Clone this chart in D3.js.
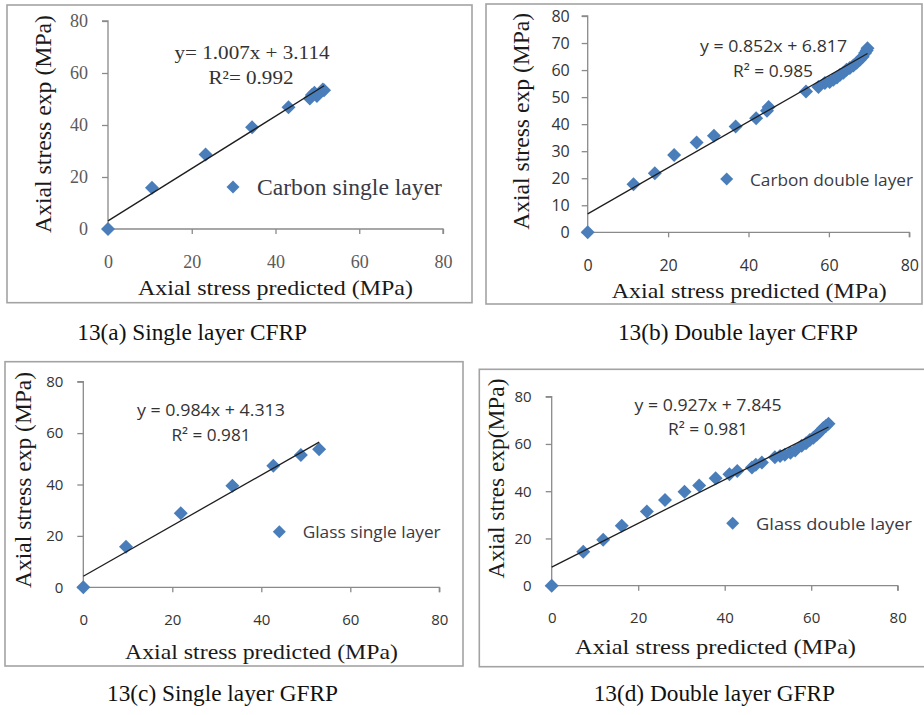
<!DOCTYPE html>
<html><head><meta charset="utf-8">
<script src="https://cdn.jsdelivr.net/npm/d3@7"></script>
<style>body{margin:0;background:#fff}svg{display:block}</style>
</head><body>
<svg id="c" width="924" height="715"></svg>
<script>
// ---------- data ----------
const xTicks = [0, 20, 40, 60, 80];
const yTicks20 = [0, 20, 40, 60, 80];
const yTicks10 = [0, 10, 20, 30, 40, 50, 60, 70, 80];

const carbonSingleX = [0, 10.5, 23.3, 34.4, 43.1, 48.2, 48.7, 49.3, 49.9, 51.3, 51.6];
const carbonSingleY = [0, 15.9, 28.7, 39.1, 46.8, 50.2, 51.5, 52.4, 51.2, 53.7, 53.4];

const carbonDoubleX = [0, 11.4, 16.7, 21.5, 27.1, 31.4, 36.8, 41.9, 44.6, 45.0, 54.3, 57.4, 59.0, 60.2, 61.1, 62.0, 62.8, 63.6, 64.4, 65.2, 66.1, 66.9, 67.7, 68.4, 69.0, 69.4, 69.6];
const carbonDoubleY = [0, 17.8, 21.8, 28.6, 33.2, 35.7, 39.1, 42.2, 45.0, 46.3, 52.1, 53.7, 55.2, 55.6, 56.4, 57.3, 58.3, 59.0, 60.1, 60.8, 61.7, 62.7, 63.8, 64.9, 66.3, 67.2, 68.1];

const glassSingleX = [0, 9.6, 21.9, 33.5, 42.7, 48.9, 53.0];
const glassSingleY = [0, 15.8, 28.8, 39.5, 47.3, 51.5, 53.7];

const glassDoubleX = [0, 7.3, 11.9, 16.2, 22.0, 26.2, 30.7, 34.1, 37.9, 41.1, 42.9, 46.3, 47.2, 48.6, 51.6, 52.8, 53.9, 55.2, 56.3, 57.8, 58.8, 59.7, 60.5, 61.3, 62.0, 62.8, 63.4, 64.0];
const glassDoubleY = [0, 14.4, 19.4, 25.4, 31.4, 36.3, 39.8, 42.4, 45.5, 47.2, 48.6, 50.0, 51.2, 52.1, 54.4, 54.9, 55.4, 56.3, 57.2, 59.2, 60.3, 61.7, 62.6, 63.9, 65.2, 66.7, 67.6, 68.5];

const fitSlopes = [1.007, 0.852, 0.984, 0.927];
const fitIntercepts = [3.114, 6.817, 4.313, 7.845];
const equationLabels = ["y= 1.007x + 3.114", "y = 0.852x + 6.817", "y = 0.984x + 4.313", "y = 0.927x + 7.845"];
const r2Labels = ["R\u00b2= 0.992", "R\u00b2 = 0.985", "R\u00b2 = 0.981", "R\u00b2 = 0.981"];
const seriesNames = ["Carbon single layer", "Carbon double layer", "Glass single layer", "Glass double layer"];
const xTitles = ["Axial stress predicted (MPa)", "Axial stress predicted (MPa)", "Axial stress predicted (MPa)", "Axial stress predicted  (MPa)"];
const yTitles = ["Axial stress exp (MPa)", "Axial stress exp (MPa)", "Axial stress exp (MPa)", "Axial stres exp(MPa)"];
const captions = ["13(a) Single layer CFRP", "13(b) Double layer CFRP", "13(c) Single layer GFRP", "13(d) Double layer GFRP"];

// ---------- layout ----------
const SERIF = "'Liberation Serif','Times New Roman',serif";
const SANS = "'Open Sans','Noto Sans',sans-serif";
const BLUE = "#4a7ebb";
const panels = [
  {xs: carbonSingleX, ys: carbonSingleY, yt: yTicks20, box: [7, 5, 472, 302.7],
   px: [108, 443], py: [229, 21], tickFont: SERIF, tickSize: 18, tickColor: "#5a5a5a",
   xT: [275.5, 287, 275], yT: [43, 124, 218], eqFont: SERIF, eqSize: 19,
   eq: [252, 52, 155], r2: [251, 77, 85], legD: [233, 187], legT: [257, 185], legFont: SERIF, legSize: 23},
  {xs: carbonDoubleX, ys: carbonDoubleY, yt: yTicks10, box: [486, 4, 922, 304],
   px: [587.7, 909.3], py: [232.3, 16], tickFont: SANS, tickSize: 16, tickColor: "#333",
   xT: [749.2, 290, 275], yT: [521.7, 121.3, 217], eqFont: SANS, eqSize: 17,
   eq: [773.5, 45, 147], r2: [773, 70, 80], legD: [726.7, 179], legT: [750, 163], legFont: SANS, legSize: 17},
  {xs: glassSingleX, ys: glassSingleY, yt: yTicks20, box: [5, 361.7, 463, 666],
   px: [83.3, 439.3], py: [587.3, 381.7], tickFont: SANS, tickSize: 15, tickColor: "#333",
   xT: [261.5, 651.7, 273], yT: [23, 479.9, 216], eqFont: SANS, eqSize: 17,
   eq: [211, 409.3, 148], r2: [211, 434, 79], legD: [279.3, 531.7], legT: [302.7, 138], legFont: SANS, legSize: 16},
  {xs: glassDoubleX, ys: glassDoubleY, yt: yTicks20, box: [479.3, 369.3, 926, 666.7],
   px: [551.7, 897.7], py: [585.7, 396.7], tickFont: SANS, tickSize: 15, tickColor: "#333",
   xT: [715.5, 646, 281], yT: [496.7, 478.5, 200], eqFont: SANS, eqSize: 17,
   eq: [708, 404, 147], r2: [708, 428, 80], legD: [732.7, 523.3], legT: [756, 156], legFont: SANS, legSize: 17}
];
// caption right end x and baseline y
const captionPos = [[307, 340], [858, 340], [338, 701], [835, 701]];

const svg = d3.select("#c");
const diamond = r => `M0,${-r}L${r},0L0,${r}L${-r},0Z`;

panels.forEach((p, i) => {
  const g = svg.append("g");
  g.append("rect").attr("x", p.box[0]).attr("y", p.box[1])
    .attr("width", p.box[2] - p.box[0]).attr("height", p.box[3] - p.box[1])
    .attr("fill", "#fff").attr("stroke", "#a3a3a3").attr("stroke-width", 1.6);

  const x = d3.scaleLinear().domain([0, 80]).range(p.px);
  const y = d3.scaleLinear().domain([0, 80]).range(p.py);

  const xa = g.append("g").attr("transform", `translate(0,${p.py[0]})`)
    .call(d3.axisBottom(x).tickValues(xTicks).tickSize(5).tickPadding(p.tickFont === SERIF ? 21 : 22).tickSizeOuter(5));
  const ya = g.append("g").attr("transform", `translate(${p.px[0]},0)`)
    .call(d3.axisLeft(y).tickValues(p.yt).tickSize(6).tickPadding(i === 1 ? 12 : 14).tickSizeOuter(6));
  [xa, ya].forEach(a => {
    a.select(".domain").attr("stroke", "#8a8a8a").attr("stroke-width", 1.3);
    a.selectAll(".tick line").attr("stroke", "#8a8a8a").attr("stroke-width", 1.3);
    a.selectAll(".tick text").attr("font-family", p.tickFont).attr("font-size", p.tickSize)
      .attr("fill", p.tickColor);
  });
  xa.select(".domain").attr("d", `M${p.px[0]},0H${p.px[1]}V5`);
  ya.select(".domain").attr("d", `M-6,${p.py[1]}H0V${p.py[0]}`);

  // axis titles
  g.append("text").attr("x", p.xT[0]).attr("y", p.xT[1]).attr("text-anchor", "middle")
    .attr("dominant-baseline", "central").attr("font-family", SERIF).attr("font-size", 22)
    .attr("fill", "#1a1a1a").attr("textLength", p.xT[2]).attr("lengthAdjust", "spacingAndGlyphs")
    .text(xTitles[i]);
  g.append("text").attr("transform", `translate(${p.yT[0]},${p.yT[1]}) rotate(-90)`)
    .attr("text-anchor", "middle").attr("dominant-baseline", "central")
    .attr("font-family", SERIF).attr("font-size", 23).attr("fill", "#1a1a1a")
    .attr("textLength", p.yT[2]).attr("lengthAdjust", "spacingAndGlyphs").text(yTitles[i]);

  // trendline data (linear fit over the observed x range)
  const xmax = d3.max(p.xs);
  const lineData = [0, xmax].map(v => [v, fitSlopes[i] * v + fitIntercepts[i]]);

  // points
  g.selectAll("path.pt").data(d3.zip(p.xs, p.ys)).join("path").attr("class", "pt")
    .attr("transform", d => `translate(${x(d[0])},${y(d[1])})`)
    .attr("d", diamond(7)).attr("fill", BLUE);

  // trendline on top of markers
  g.append("path").attr("d", d3.line().x(d => x(d[0])).y(d => y(d[1]))(lineData))
    .attr("stroke", "#1e1e1e").attr("stroke-width", 1.3).attr("fill", "none");

  // equation
  g.append("text").attr("x", p.eq[0]).attr("y", p.eq[1]).attr("text-anchor", "middle")
    .attr("dominant-baseline", "central").attr("font-family", p.eqFont).attr("font-size", p.eqSize)
    .attr("fill", "#333").attr("textLength", p.eq[2]).attr("lengthAdjust", "spacingAndGlyphs")
    .text(equationLabels[i]);
  g.append("text").attr("x", p.r2[0]).attr("y", p.r2[1]).attr("text-anchor", "middle")
    .attr("dominant-baseline", "central").attr("font-family", p.eqFont).attr("font-size", p.eqSize)
    .attr("fill", "#333").attr("textLength", p.r2[2]).attr("lengthAdjust", "spacingAndGlyphs")
    .text(r2Labels[i]);

  // legend
  g.append("path").attr("transform", `translate(${p.legD[0]},${p.legD[1]})`)
    .attr("d", diamond(6.5)).attr("fill", BLUE);
  g.append("text").attr("x", p.legT[0]).attr("y", p.legD[1]).attr("dominant-baseline", "central")
    .attr("font-family", p.legFont).attr("font-size", p.legSize).attr("fill", "#3a3a44")
    .attr("textLength", p.legT[1]).attr("lengthAdjust", "spacingAndGlyphs").text(seriesNames[i]);

  // caption
  svg.append("text").attr("x", captionPos[i][0]).attr("y", captionPos[i][1])
    .attr("text-anchor", "end").attr("font-family", SERIF).attr("font-size", 23.3)
    .attr("fill", "#111").text(captions[i]);
});
</script>
</body></html>
